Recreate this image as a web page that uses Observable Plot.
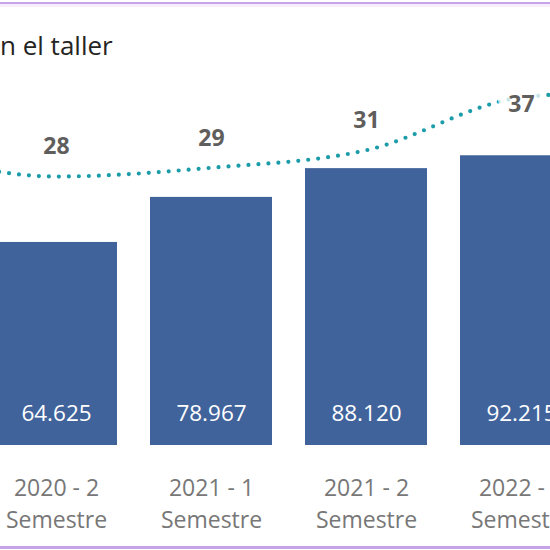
<!DOCTYPE html>
<html>
<head>
<meta charset="utf-8">
<script src="https://cdn.jsdelivr.net/npm/d3@7"></script>
<script src="https://cdn.jsdelivr.net/npm/@observablehq/plot@0.6"></script>
<style>
html, body { margin: 0; padding: 0; background: #ffffff; }
body { width: 550px; height: 550px; overflow: hidden; position: relative; font-family: "Open Sans", sans-serif; }
#chart { position: absolute; left: -177.5px; top: 0; width: 930px; height: 550px; }
#chart svg { position: absolute; left: 0; top: 0; overflow: visible; }
#title { position: absolute; left: 0; top: 32px; font-size: 26px; line-height: 26px; color: #252423; white-space: nowrap; }
.border { position: absolute; left: 0; width: 550px; background: #c6a2e9; }
</style>
</head>
<body>
<div id="chart"></div>
<div id="title">n el taller</div>
<div class="border" style="top:1.5px;height:2.5px;"></div>
<div class="border" style="top:4px;height:3px;background:#f6eefc;"></div>
<div class="border" style="top:546px;height:2.5px;"></div>
<script>
// Data
const categories = ["2020 - 1 Semestre", "2020 - 2 Semestre", "2021 - 1 Semestre", "2021 - 2 Semestre", "2022 - 1 Semestre", "2022 - 2 Semestre"];
const barValues = [null, 64625, 78967, 88120, 92215, null];
const lineValues = [31, 28, 29, 31, 37, 38];

const rows = categories.map((c, i) => ({cat: c, bar: barValues[i], line: lineValues[i]}));
const es = d3.formatLocale({decimal: ",", thousands: ".", grouping: [3], currency: ["$", ""]});
const fmt = es.format(",d");

const xScale = {domain: categories, paddingInner: 0.213, paddingOuter: 0.1065};
const W = 930, H = 550;

const bars = Plot.plot({
  width: W, height: H,
  marginLeft: 0, marginRight: 0, marginTop: 130.8, marginBottom: 105,
  x: {...xScale, label: null},
  y: {domain: [0, 100000], axis: null},
  style: {fontFamily: "Open Sans", background: "transparent", color: "#777777"},
  marks: [
    Plot.barY(rows, {x: "cat", y: "bar", fill: "#41639C"}),
    Plot.text(rows.filter(d => d.bar != null), {
      x: "cat", y: 0, text: d => fmt(d.bar), dy: -32, lineAnchor: "middle",
      fill: "white", fontSize: 22.5
    }),
    Plot.axisX({
      label: null,
      tickSize: 0, tickPadding: 27, fontSize: 23, lineHeight: 32.5 / 23, fill: "#777777",
      tickFormat: d => d.replace(" Semestre", "\nSemestre")
    })
  ]
});

const lineChart = Plot.plot({
  width: W, height: H,
  marginLeft: 0, marginRight: 0, marginTop: 70.7, marginBottom: 128.2,
  x: {...xScale, axis: null},
  y: {domain: [0, 40], axis: null},
  style: {fontFamily: "Open Sans", background: "transparent"},
  marks: [
    Plot.line(rows, {
      x: "cat", y: "line", stroke: "#1B9CA8", strokeWidth: 4.2,
      strokeDasharray: "0 10", strokeLinecap: "round", curve: "monotone-x"
    }),
    Plot.text(rows.filter(d => d.line < 35), {
      x: "cat", y: "line", text: d => String(d.line), dy: -29.5, lineAnchor: "middle",
      fontSize: 23, fontWeight: "bold", fill: "#605E5C",
      stroke: "white", strokeOpacity: 0.75, strokeWidth: 24
    }),
    Plot.text(rows.filter(d => d.line >= 35), {
      x: "cat", y: "line", text: d => String(d.line), dy: 7, lineAnchor: "middle",
      fontSize: 23, fontWeight: "bold", fill: "#605E5C",
      stroke: "white", strokeOpacity: 0.75, strokeWidth: 24
    })
  ]
});

const chart = document.getElementById("chart");
chart.appendChild(bars);
chart.appendChild(lineChart);
</script>
</body>
</html>
